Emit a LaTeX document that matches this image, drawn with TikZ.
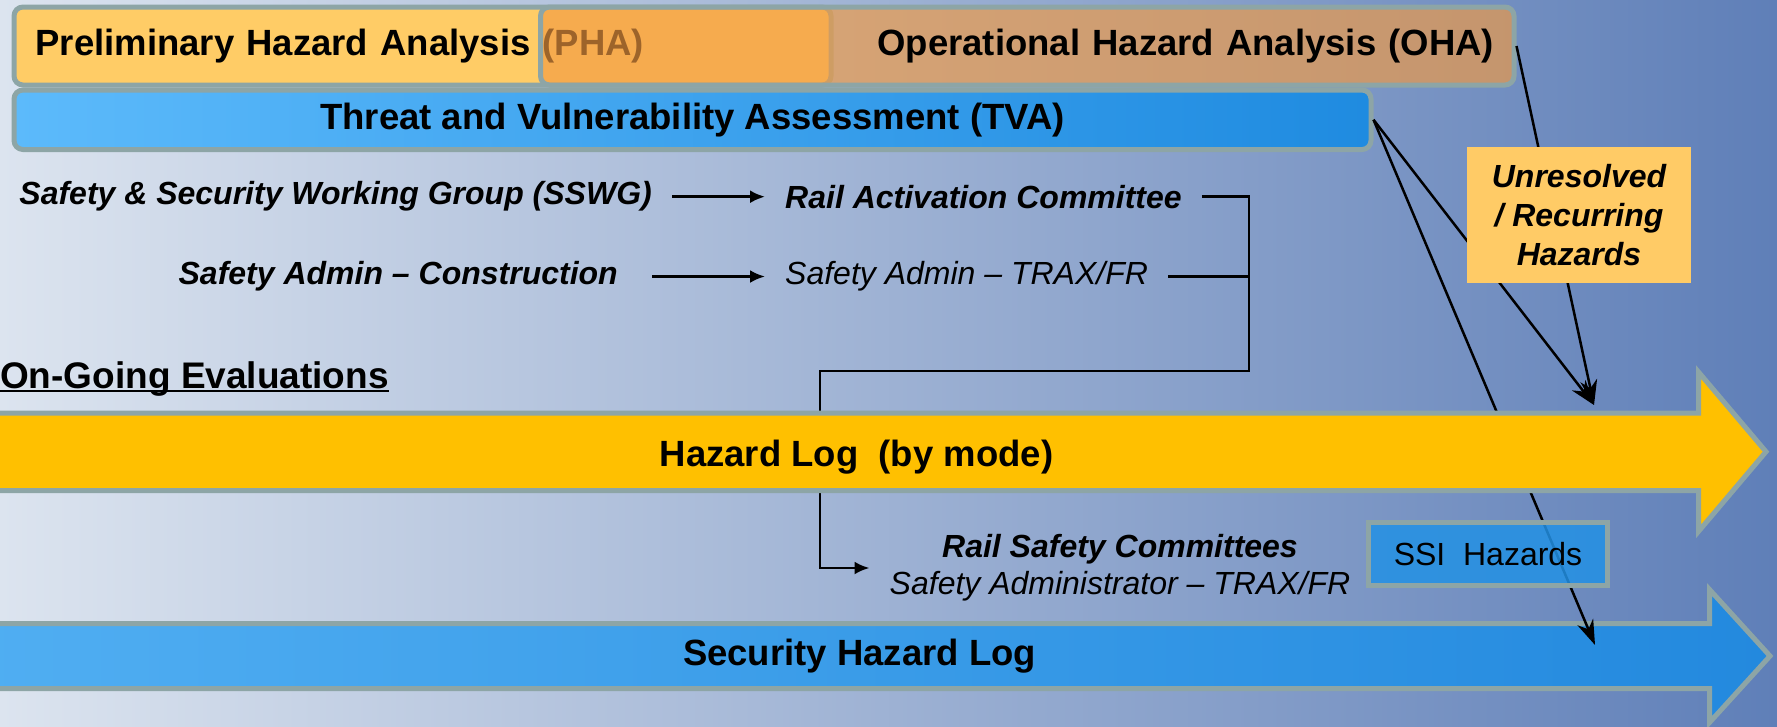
\documentclass[tikz,border=0pt]{standalone}
\usepackage{fontspec}
\setmainfont{Liberation Sans}
\usetikzlibrary{arrows.meta}
\definecolor{rim}{HTML}{8DA5A6}
\definecolor{phafill}{HTML}{FFCC66}
\definecolor{ohafill}{HTML}{F29A42}
\definecolor{tvaL}{HTML}{5CBAFB}
\definecolor{tvaR}{HTML}{1F8BE0}
\definecolor{hazfill}{HTML}{FFC000}
\definecolor{secL}{HTML}{50AEF2}
\definecolor{secR}{HTML}{2389DE}
\definecolor{ssifill}{HTML}{2391E4}
\definecolor{unresfill}{HTML}{FFCB66}
\definecolor{bgL}{HTML}{DCE4EF}
\definecolor{bgM}{HTML}{98AED2}
\definecolor{bgR}{HTML}{5F7FB8}
\begin{document}
\begin{tikzpicture}[x=1pt, y=-1pt,
  every node/.style = {text=black},
  topbox/.style = {draw=rim, line width=5pt, rounded corners=9pt,
    inner sep=0pt, anchor=north west,
    font=\bfseries\fontsize{36.5}{40}\selectfont},
  rowtext/.style = {font=\bfseries\itshape\fontsize{32}{36}\selectfont,
    inner xsep=20pt, inner ysep=2pt},
  plaintext/.style = {font=\itshape\fontsize{32}{36}\selectfont,
    inner xsep=20pt, inner ysep=2pt},
  logtext/.style = {font=\bfseries\fontsize{36.5}{40}\selectfont},
  logarrow/.style = {draw=rim, line width=5pt},
  link/.style = {line width=2.8pt},
  linktip/.style = {link, -{Latex[length=15pt,width=13pt]}},
  feed/.style = {line width=2.5pt, -{Stealth[length=25pt,width=17pt,inset=8pt]}}]
  \useasboundingbox (0,0) rectangle (1777,726);
  \shade[left color=bgL, middle color=bgM, right color=bgR] (0,0) rectangle (1777,726);

  \node[topbox, fill=phafill, minimum width=817pt, minimum height=78pt,
    text width=773.8pt, align=left] (pha) at (11.5,4.5)
    {Preliminary Hazard Analysis (PHA)};
  \node[topbox, fill=ohafill, fill opacity=0.65, text opacity=1,
    minimum width=973.5pt, minimum height=78pt,
    text width=933.5pt, align=right] (oha) at (538,4.5)
    {Operational Hazard Analysis (OHA)};
  \node[topbox, left color=tvaL, right color=tvaR,
    minimum width=1357pt, minimum height=59.5pt] (tva) at (11.5,87.5)
    {Threat and Vulnerability Assessment (TVA)};

  \node[rowtext, anchor=east] (sswg) at (672,196.7) {Safety \& Security Working Group (SSWG)};
  \node[rowtext, anchor=west] (rac) at (765,196.7) {Rail Activation Committee};
  \node[rowtext, anchor=east] (sac) at (638,276.5) {Safety Admin – Construction};
  \node[plaintext, anchor=west] (satf) at (765,276.5) {Safety Admin – TRAX/FR};
  \node[font=\bfseries\fontsize{37}{40}\selectfont, inner sep=0pt,
    anchor=base west] (ongo) at (0,388) {On-Going Evaluations};
  \draw[line width=2.5pt] ([yshift=-3pt]ongo.base west) -- ([yshift=-3pt]ongo.base east);
  \node[plaintext, align=center, font=\itshape\fontsize{32}{37}\selectfont] (rsc) at (1120,568)
    {\textbf{Rail Safety Committees}\\Safety Administrator – TRAX/FR};

  \draw[logarrow, left color=secL, right color=secR] (-20,623.5) -- (1709.5,623.5)
    -- (1709.5,589.5) -- (1770,656) -- (1709.5,722.5) -- (1709.5,688.5) -- (-20,688.5) -- cycle;
  \node[logtext] (seclog) at (859.5,656) {Security Hazard Log};

  \coordinate (hzin) at (1594,405);
  \coordinate (secin) at (1595,645);
  \coordinate (bend) at (1249,371);
  \coordinate (drop) at (820,371);

  \draw[linktip] (sswg) -- (rac);
  \draw[linktip, shorten <=14pt] (sac) -- (satf);
  \draw[linktip] (rac.east) -| (bend) -- (drop) |- (rsc.west);
  \draw[link] (satf.east) -- (satf.east -| bend);
  \draw[feed] (tva.east) -- (hzin);
  \draw[feed] (oha.east) -- (hzin);
  \draw[feed] (tva.east) -- (secin);

  \draw[logarrow, fill=hazfill] (-20,413) -- (1698.5,413) -- (1698.5,372)
    -- (1766,451.7) -- (1698.5,531.4) -- (1698.5,490.5) -- (-20,490.5) -- cycle;
  \node[logtext] (hazlog) at (856.5,457) {Hazard Log~ (by mode)};

  \node[fill=unresfill, align=center, inner sep=0pt,
    font=\bfseries\itshape\fontsize{32}{39}\selectfont,
    minimum width=224.5pt, minimum height=136pt] (unres) at (1579,215)
    {Unresolved\\/ Recurring\\Hazards};
  \node[draw=rim, line width=5pt, fill=ssifill, fill opacity=0.85, text opacity=1,
    font=\fontsize{32}{36}\selectfont, inner sep=0pt,
    minimum width=239pt, minimum height=63pt] (ssi) at (1488,554) {SSI~ Hazards};
\end{tikzpicture}
\end{document}
